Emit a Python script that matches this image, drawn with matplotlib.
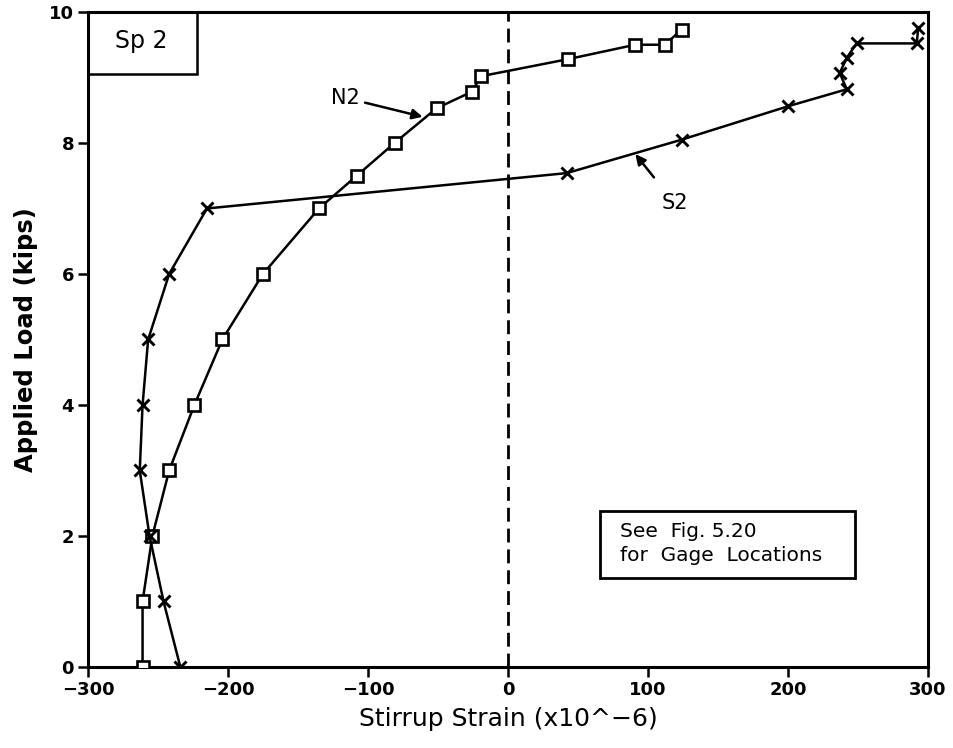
import matplotlib
matplotlib.use("Agg")
import matplotlib.pyplot as plt
from matplotlib.patches import Rectangle

# Gage N2 readings: stirrup strain (x10^-6) vs applied load (kips)
n2_strain = [-261, -261, -254, -242, -224, -204, -175, -135, -108, -81, -51, -26, -19, 43, 91, 112, 124]
n2_load = [0, 1, 2, 3, 4, 5, 6, 7, 7.5, 8.0, 8.53, 8.78, 9.02, 9.28, 9.5, 9.5, 9.73]

# Gage S2 readings
s2_strain = [-234, -246, -256, -263, -261, -257, -242, -215, 42, 124, 200, 242, 237, 242, 249, 292, 293]
s2_load = [0, 1, 2, 3, 4, 5, 6, 7.0, 7.54, 8.05, 8.56, 8.82, 9.07, 9.3, 9.52, 9.52, 9.75]

x_ticks = [-300, -200, -100, 0, 100, 200, 300]
x_tick_labels = ["\u2212300", "\u2212200", "\u2212100", "0", "100", "200", "300"]
y_ticks = [0, 2, 4, 6, 8, 10]

fig = plt.figure(figsize=(9.54, 7.48), dpi=100)
ax = fig.add_axes([0.0922, 0.1083, 0.8805, 0.8757])

ax.plot(n2_strain, n2_load, color="black", lw=1.8, marker="s", ms=9,
        mfc="white", mec="black", mew=1.9, zorder=3)
ax.plot(s2_strain, s2_load, color="black", lw=1.8, marker="x", ms=9,
        mec="black", mew=2.1, zorder=3)

# zero-strain reference line
ax.axvline(0, color="black", lw=2, ls=(0, (5, 2.5)), zorder=2)

ax.set_xlim(-300, 300)
ax.set_ylim(0, 10)
ax.set_xticks(x_ticks)
ax.set_yticks(y_ticks)
ax.set_xticklabels(x_tick_labels)
ax.tick_params(direction="out", length=7, width=1.8, labelsize=13, pad=3)
for lbl in ax.get_xticklabels() + ax.get_yticklabels():
    lbl.set_fontweight("bold")
for sp in ax.spines.values():
    sp.set_linewidth(2.2)

ax.set_xlabel("Stirrup Strain (x10^\u22126)", fontsize=18, labelpad=6)
ax.set_ylabel("Applied Load (kips)", fontsize=17.5, fontweight="bold", labelpad=8)

# specimen tag in the upper-left corner
ax.add_patch(Rectangle((0, 0.905), 0.13, 0.095, transform=ax.transAxes,
                       fill=False, lw=1.8, ec="black", clip_on=False, zorder=4))
ax.text(0.064, 0.955, "Sp 2", transform=ax.transAxes, fontsize=17,
        ha="center", va="center")

# note box
ax.add_patch(Rectangle((0.6095, 0.136), 0.3035, 0.102, transform=ax.transAxes,
                       fc="white", lw=2, ec="black", zorder=4))
ax.text(0.633, 0.188, "See  Fig. 5.20\nfor  Gage  Locations", transform=ax.transAxes,
        fontsize=14.5, ha="left", va="center", linespacing=1.35, zorder=5)

# curve labels with pointers
ax.annotate("N2", xy=(-61, 8.40), xytext=(-106, 8.69), fontsize=15,
            ha="right", va="center",
            arrowprops=dict(arrowstyle="-|>", color="black", lw=1.8,
                            mutation_scale=15, shrinkA=2, shrinkB=0))
ax.annotate("S2", xy=(91, 7.83), xytext=(119, 7.08), fontsize=15,
            ha="center", va="center",
            arrowprops=dict(arrowstyle="-|>", color="black", lw=1.8,
                            mutation_scale=15, shrinkA=12, shrinkB=0))

fig.savefig("out.png", dpi=100)
